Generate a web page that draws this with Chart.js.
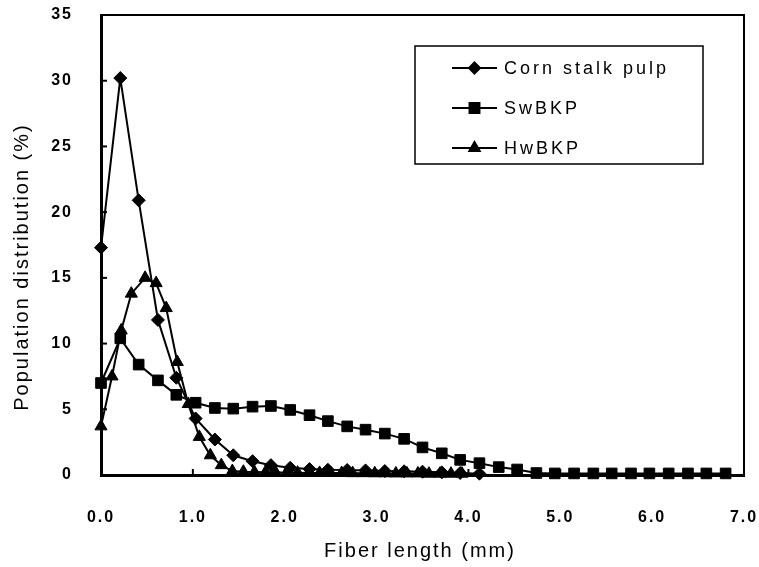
<!DOCTYPE html>
<html>
<head>
<meta charset="utf-8">
<script src="https://cdn.jsdelivr.net/npm/chart.js@4.4.1/dist/chart.umd.min.js"></script>
<style>
  html, body { margin: 0; padding: 0; background: #fff; }
  #wrap { width: 759px; height: 567px; }
</style>
</head>
<body>
<div id="wrap"><canvas id="fiberChart" width="759" height="567"></canvas></div>
<script>
// fiber length (mm) of each bin
const cornLength = [0.00, 0.21, 0.41, 0.62, 0.82, 1.03, 1.24, 1.44, 1.65, 1.85, 2.06, 2.27, 2.47, 2.68, 2.88, 3.09, 3.30, 3.50, 3.71, 3.91, 4.12];
const swLength = [0.00, 0.21, 0.41, 0.62, 0.82, 1.03, 1.24, 1.44, 1.65, 1.85, 2.06, 2.27, 2.47, 2.68, 2.88, 3.09, 3.30, 3.50, 3.71, 3.91, 4.12, 4.33, 4.53, 4.74, 4.94, 5.15, 5.36, 5.56, 5.77, 5.97, 6.18, 6.39, 6.59, 6.80];
const hwLength = [0.00, 0.12, 0.22, 0.33, 0.48, 0.60, 0.71, 0.83, 0.95, 1.07, 1.19, 1.31, 1.43, 1.55, 1.67, 1.79, 1.90, 2.02, 2.14, 2.26, 2.38, 2.50, 2.62, 2.74, 2.86, 2.98, 3.09, 3.21, 3.33, 3.45, 3.57, 3.69, 3.81, 3.93];

// population distribution (%)
const cornPct = [17.3, 30.2, 20.9, 11.8, 7.4, 4.3, 2.7, 1.5, 1.05, 0.75, 0.55, 0.45, 0.4, 0.38, 0.35, 0.3, 0.28, 0.25, 0.2, 0.15, 0.1];
const swPct = [7.0, 10.4, 8.4, 7.2, 6.1, 5.5, 5.1, 5.05, 5.2, 5.25, 4.95, 4.55, 4.1, 3.7, 3.45, 3.15, 2.75, 2.1, 1.65, 1.15, 0.9, 0.6, 0.42, 0.15, 0.12, 0.12, 0.12, 0.12, 0.12, 0.12, 0.12, 0.12, 0.12, 0.12];
const hwPct = [3.7, 7.5, 11.0, 13.8, 15.0, 14.6, 12.7, 8.6, 5.4, 2.9, 1.5, 0.75, 0.3, 0.25, 0.22, 0.2, 0.2, 0.18, 0.18, 0.16, 0.16, 0.15, 0.15, 0.14, 0.14, 0.13, 0.13, 0.12, 0.12, 0.12, 0.1, 0.1, 0.1, 0.1];

const seriesNames = ['Corn stalk pulp', 'SwBKP', 'HwBKP'];
const xTicks = [0, 1, 2, 3, 4, 5, 6, 7];
const yTicks = [0, 5, 10, 15, 20, 25, 30, 35];

const toPoints = (xs, ys) => xs.map((x, i) => ({ x, y: ys[i] }));

const lineStyle = (label, data, pointStyle, radius) => ({
    label,
    data,
    showLine: true,
    borderColor: '#000',
    backgroundColor: '#000',
    borderWidth: 2,
    pointStyle,
    pointRadius: radius,
    pointBorderWidth: 1,
    pointBorderColor: '#000',
    pointBackgroundColor: '#000',
    clip: false
});

// keep the plot box where the reference has it
const noScalePadding = s => {
    s.paddingLeft = 0;
    s.paddingRight = 0;
    s.paddingTop = 0;
    s.paddingBottom = 0;
};

// frame, inward tick marks, axis titles and the boxed legend
const paperLook = {
    id: 'paperLook',
    beforeDraw(chart) {
        const ctx = chart.ctx;
        ctx.save();
        ctx.fillStyle = '#fff';
        ctx.fillRect(0, 0, chart.width, chart.height);
        ctx.restore();
        ctx.letterSpacing = '2px';
    },
    afterDraw(chart) {
        const { ctx, chartArea: a, scales: { x, y } } = chart;
        ctx.save();
        ctx.strokeStyle = '#000';
        ctx.lineWidth = 2;
        ctx.beginPath();
        ctx.moveTo(a.left, a.top);
        ctx.lineTo(a.right, a.top);
        ctx.lineTo(a.right, a.bottom);
        ctx.stroke();

        y.ticks.forEach(t => {
            const py = y.getPixelForValue(t.value);
            ctx.beginPath();
            ctx.moveTo(a.left, py);
            ctx.lineTo(a.left + 6, py);
            ctx.stroke();
        });
        x.ticks.forEach(t => {
            const px = x.getPixelForValue(t.value);
            ctx.beginPath();
            ctx.moveTo(px, a.bottom);
            ctx.lineTo(px, a.bottom - 6);
            ctx.stroke();
        });

        // axis titles
        ctx.fillStyle = '#000';
        ctx.font = '20px "Liberation Sans", Arial, sans-serif';
        ctx.letterSpacing = '2px';
        ctx.textAlign = 'center';
        ctx.textBaseline = 'middle';
        ctx.fillText('Fiber length (mm)', 420, 551);
        ctx.save();
        ctx.translate(22, 267);
        ctx.rotate(-Math.PI / 2);
        ctx.fillText('Population distribution (%)', 0, 0);
        ctx.restore();

        // legend box
        ctx.lineWidth = 1.5;
        ctx.strokeRect(415, 46, 288, 118);
        ctx.font = '18px "Liberation Sans", Arial, sans-serif';
        ctx.letterSpacing = '3px';
        ctx.textAlign = 'left';
        const rows = [68, 108, 148];
        const legendRadius = [5.5, 7, 6];
        chart.data.datasets.forEach((ds, i) => {
            const ry = rows[i];
            ctx.lineWidth = 2;
            ctx.beginPath();
            ctx.moveTo(452, ry);
            ctx.lineTo(497, ry);
            ctx.stroke();
            Chart.helpers.drawPoint(ctx, { pointStyle: ds.pointStyle, radius: legendRadius[i], borderWidth: 1, rotation: 0 }, 474.5, ry);
            ctx.fill();
            ctx.fillText(ds.label, 504, ry + 1);
        });
        ctx.restore();
    }
};

new Chart(document.getElementById('fiberChart'), {
    type: 'scatter',
    data: {
        datasets: [
            lineStyle(seriesNames[0], toPoints(cornLength, cornPct), 'rectRot', 6.5),
            lineStyle(seriesNames[1], toPoints(swLength, swPct), 'rect', 7.5),
            lineStyle(seriesNames[2], toPoints(hwLength, hwPct), 'triangle', 7)
        ]
    },
    options: {
        responsive: false,
        devicePixelRatio: 1,
        animation: false,
        layout: { padding: { left: 0, top: 15, right: 15, bottom: 0 } },
        plugins: {
            legend: { display: false },
            tooltip: { enabled: false }
        },
        scales: {
            x: {
                type: 'linear',
                min: 0,
                max: 7,
                afterBuildTicks: s => { s.ticks = xTicks.map(v => ({ value: v })); },
                afterFit: s => { s.height = 92; noScalePadding(s); },
                ticks: {
                    color: '#000',
                    padding: 33,
                    font: { family: '"Liberation Sans", Arial, sans-serif', size: 16, weight: 'bold' },
                    callback: v => Number(v).toFixed(1)
                },
                grid: { display: false, drawTicks: false },
                border: { display: true, color: '#000', width: 3 }
            },
            y: {
                min: 0,
                max: 35,
                afterBuildTicks: s => { s.ticks = yTicks.map(v => ({ value: v })); },
                afterFit: s => { s.width = 101; noScalePadding(s); },
                ticks: {
                    color: '#000',
                    padding: 28,
                    font: { family: '"Liberation Sans", Arial, sans-serif', size: 16, weight: 'bold' }
                },
                grid: { display: false, drawTicks: false },
                border: { display: true, color: '#000', width: 3 }
            }
        }
    },
    plugins: [paperLook]
});
</script>
</body>
</html>
